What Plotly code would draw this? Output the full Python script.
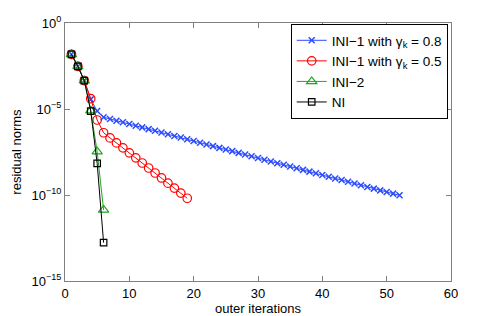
import plotly.graph_objects as go

# log10 of residual norms
ini1_08_x = list(range(1, 53))
ini1_08_log = [-1.82, -2.52, -3.35, -4.44, -5.12, -5.48, -5.58, -5.68, -5.77, -5.87,
               -5.97, -6.07, -6.17, -6.27, -6.37, -6.47, -6.57, -6.66, -6.76, -6.86,
               -6.96, -7.06, -7.16, -7.26, -7.36, -7.45, -7.55, -7.65, -7.75, -7.85,
               -7.95, -8.05, -8.15, -8.24, -8.34, -8.44, -8.54, -8.64, -8.74, -8.84,
               -8.94, -9.04, -9.13, -9.23, -9.33, -9.43, -9.53, -9.63, -9.73, -9.83,
               -9.92, -10.02]
ini1_05_x = list(range(1, 20))
ini1_05_log = [-1.82, -2.52, -3.35, -4.40, -5.64, -6.38, -6.68, -6.97, -7.26, -7.55,
               -7.84, -8.14, -8.43, -8.72, -9.01, -9.31, -9.60, -9.89, -10.19]
ini2_x = [1, 2, 3, 4, 5, 6]
ini2_log = [-1.82, -2.52, -3.35, -5.10, -7.48, -10.87]
ni_x = [1, 2, 3, 4, 5, 6]
ni_log = [-1.82, -2.52, -3.35, -5.12, -8.16, -12.77]

names = ["INI\u22121 with \u03b3<sub>k</sub> = 0.8",
         "INI\u22121 with \u03b3<sub>k</sub> = 0.5",
         "INI\u22122",
         "NI"]
xticks = [0, 10, 20, 30, 40, 50, 60]
yticks = [1e-15, 1e-10, 1e-5, 1e0]
yticktext = ["10<sup>\u221215</sup>", "10<sup>\u221210</sup>", "10<sup>\u22125</sup>", "10<sup>0</sup>"]

blue = "#2b4cff"
red = "#ff0000"
green = "#1fa51f"
black = "#000000"

fig = go.Figure()
fig.add_trace(go.Scatter(x=ini1_08_x, y=[10 ** v for v in ini1_08_log], name=names[0],
                         mode="lines+markers", line=dict(color=blue, width=1),
                         marker=dict(symbol="x-thin", size=6, line=dict(color=blue, width=1.5))))
fig.add_trace(go.Scatter(x=ini1_05_x, y=[10 ** v for v in ini1_05_log], name=names[1],
                         mode="lines+markers", line=dict(color=red, width=1),
                         marker=dict(symbol="circle-open", size=8.5, line=dict(color=red, width=1.2))))
fig.add_trace(go.Scatter(x=ini2_x, y=[10 ** v for v in ini2_log], name=names[2],
                         mode="lines+markers", line=dict(color=green, width=1),
                         marker=dict(symbol="triangle-up-open", size=9, line=dict(color=green, width=1.2))))
fig.add_trace(go.Scatter(x=ni_x, y=[10 ** v for v in ni_log], name=names[3],
                         mode="lines+markers", line=dict(color=black, width=1),
                         marker=dict(symbol="square-open", size=6.5, line=dict(color=black, width=1.2))))

axis_common = dict(showline=True, linecolor="#808080", linewidth=1, mirror="ticks",
                   ticks="inside", ticklen=5, tickcolor="#808080", showgrid=False,
                   zeroline=False, automargin=False, tickfont=dict(size=13, color="black"))
fig.update_xaxes(range=[0, 60], tickvals=xticks,
                 title=dict(text="outer iterations", font=dict(size=13, color="black"), standoff=0),
                 **axis_common)
fig.update_yaxes(type="log", range=[-15, 0], tickvals=yticks, ticktext=yticktext,
                 title=dict(text="residual norms", font=dict(size=13, color="black"), standoff=6),
                 **axis_common)
fig.update_layout(width=498, height=316,
                  margin=dict(l=65, r=47, t=23, b=35),
                  paper_bgcolor="white", plot_bgcolor="white",
                  font=dict(family="Liberation Sans, Arial, sans-serif", size=13, color="black"),
                  legend=dict(x=0.9915, y=0.996, xanchor="right", yanchor="top",
                              bgcolor="white", bordercolor="black", borderwidth=1,
                              font=dict(size=13.5), tracegroupgap=0, itemwidth=30))
fig.write_html("out.html", config={"displayModeBar": False},
               post_script="document.body.style.margin='0';document.body.style.padding='0';")
